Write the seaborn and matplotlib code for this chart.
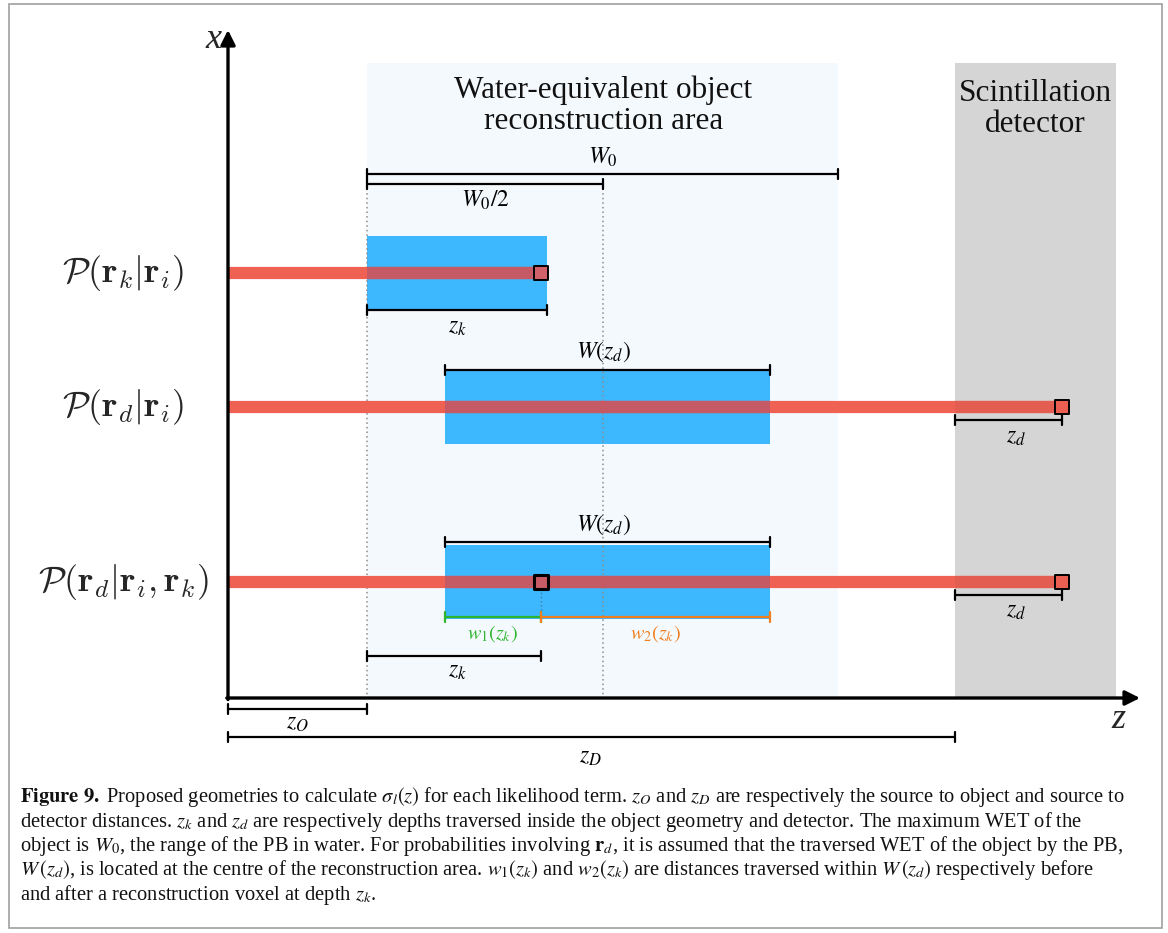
import matplotlib
matplotlib.use("Agg")
import matplotlib.pyplot as plt
from matplotlib.patches import Rectangle
import seaborn as sns

sns.set_theme(style="white")
plt.rcParams['font.family'] = ['Liberation Serif', 'DejaVu Serif']
plt.rcParams['mathtext.fontset'] = 'stix'

# geometry along z (figure pixel units, source at z_src)
z_src = 228
z_obj = [367, 838]       # water-equivalent object area
z_det = [955, 1116]      # scintillation detector
z_half = 603             # W0 / 2
z_voxel = 541            # voxel at depth z_k
z_wd = [445, 770]        # W(z_d) extent
z_end = 1062             # detection point
z_arrow = 1140
x_top = 30
z_axis_y = 698
area_top = 63

# likelihood rows
row_labels = [r'$\mathcal{P}(\mathbf{r}_k|\mathbf{r}_i)$',
              r'$\mathcal{P}(\mathbf{r}_d|\mathbf{r}_i)$',
              r'$\mathcal{P}(\mathbf{r}_d|\mathbf{r}_i,\mathbf{r}_k)$']
row_y = [273, 407, 582]
row_end = [z_voxel, z_end, z_end]
row_block = [[z_obj[0], 547], z_wd, z_wd]
row_voxel = [True, False, True]

# measurement brackets: x0, x1, y, label, label_x, label_y, colour
brackets = [
    (z_obj[0], z_obj[1], 174, r'$W_0$', 603, 157, 'black'),
    (z_obj[0], z_half, 184, r'$W_0/2$', 485, 200, 'black'),
    (z_obj[0], 547, 310, r'$z_k$', 457, 327, 'black'),
    (z_wd[0], z_wd[1], 370, r'$W(z_d)$', 603, 352, 'black'),
    (z_det[0], z_end, 420, r'$z_d$', 1016, 438, 'black'),
    (z_wd[0], z_wd[1], 542, r'$W(z_d)$', 603, 525, 'black'),
    (z_wd[0], z_voxel, 617, r'$w_1(z_k)$', 492, 634, '#2db52d'),
    (z_voxel, z_wd[1], 617, r'$w_2(z_k)$', 655, 634, '#f07f1f'),
    (z_obj[0], z_voxel, 656, r'$z_k$', 457, 672, 'black'),
    (z_det[0], z_end, 595, r'$z_d$', 1016, 612, 'black'),
    (z_src, z_obj[0], 709, r'$z_O$', 297, 724, 'black'),
    (z_src, z_det[0], 737, r'$z_D$', 590, 757, 'black'),
]

caption = [
    r"$\mathbf{Figure\ 9.}$ Proposed geometries to calculate $\sigma_l(z)$ for each likelihood term. $z_O$ and $z_D$ are respectively the source to object and source to",
    r"detector distances. $z_k$ and $z_d$ are respectively depths traversed inside the object geometry and detector. The maximum WET of the",
    r"object is $W_0$, the range of the PB in water. For probabilities involving $\mathbf{r}_d$, it is assumed that the traversed WET of the object by the PB,",
    r"$W\,(z_d)$, is located at the centre of the reconstruction area. $w_1(z_k)$ and $w_2(z_k)$ are distances traversed within $W\,(z_d)$ respectively before",
    r"and after a reconstruction voxel at depth $z_k$.",
]

BLUE = '#3db7fd'
RED = '#ef6152'
RED_ON_BLUE = '#c65a64'
RED_ON_GRAY = '#e35d50'

fig = plt.figure(figsize=(11.68, 9.33), dpi=100)
ax = fig.add_axes([0, 0, 1, 1])

# frame
ax.add_patch(Rectangle((9, 4), 1153, 924, fill=False, edgecolor='#a0a0a0', lw=1.2, zorder=0))

# regions
ax.add_patch(Rectangle((z_obj[0], area_top), z_obj[1] - z_obj[0], z_axis_y - area_top,
                       facecolor='#f4f9fd', edgecolor='none', zorder=0))
ax.add_patch(Rectangle((z_det[0], area_top), z_det[1] - z_det[0], z_axis_y - area_top,
                       facecolor='#d5d5d5', edgecolor='none', zorder=0))
ax.text((z_obj[0] + z_obj[1]) / 2 + 1, 106, 'Water-equivalent object\nreconstruction area',
        ha='center', va='center', fontsize=22.5, linespacing=1.08, color='#111111')
ax.text((z_det[0] + z_det[1]) / 2, 109, 'Scintillation\ndetector',
        ha='center', va='center', fontsize=22.5, linespacing=1.08, color='#111111')

# blocks traversed
for (b0, b1), y in zip(row_block, row_y):
    ax.add_patch(Rectangle((b0, y - 37), b1 - b0, 74, facecolor=BLUE, edgecolor='none', zorder=1))

# dotted guides
ax.vlines([z_obj[0], z_half], 184, z_axis_y, colors='#8c8c8c', lw=1.1,
          linestyles=(0, (1, 2)), zorder=2)
ax.vlines(z_voxel, row_y[2] + 6, 617, colors='#3f7fb0', lw=1.0, linestyles=(0, (1, 2)), zorder=2)

# beams
for y, end, (b0, b1) in zip(row_y, row_end, row_block):
    sns.lineplot(x=[z_src, end], y=[y, y], color=RED, linewidth=8.8,
                 solid_capstyle='butt', ax=ax, zorder=3)
    sns.lineplot(x=[b0, min(b1, end)], y=[y, y], color=RED_ON_BLUE, linewidth=8.8,
                 solid_capstyle='butt', ax=ax, zorder=4)
    if end > z_det[0]:
        sns.lineplot(x=[z_det[0], end], y=[y, y], color=RED_ON_GRAY, linewidth=8.8,
                     solid_capstyle='butt', ax=ax, zorder=4)

# voxel / detection markers
for y, end, vox in zip(row_y, row_end, row_voxel):
    if end == z_voxel:
        sns.scatterplot(x=[end], y=[y], marker='s', s=95, color='#d0606a',
                        edgecolor='black', linewidth=1.4, ax=ax, zorder=6)
    else:
        sns.scatterplot(x=[end], y=[y], marker='s', s=95, color='#ea5f52',
                        edgecolor='black', linewidth=1.4, ax=ax, zorder=6)
        if vox:
            sns.scatterplot(x=[z_voxel], y=[y], marker='s', s=95, color='#c85c66',
                            edgecolor='black', linewidth=2.2, ax=ax, zorder=6)

# row labels
for lab, y in zip(row_labels, row_y):
    ax.text(123, y, lab, ha='center', va='center', fontsize=26, math_fontfamily='cm')

# brackets
for x0, x1, y, lab, lx, ly, col in brackets:
    ax.plot([x0, x1], [y, y], color=col, lw=1.6, zorder=5, solid_capstyle='butt')
    ax.plot([x0, x0], [y - 5, y + 5], color=col, lw=1.6, zorder=5)
    ax.plot([x1, x1], [y - 5, y + 5], color=col, lw=1.6, zorder=5)
    ax.text(lx, ly, lab, ha='center', va='center', fontsize=17 if col == 'black' else 14.5,
            color=col)

# axes arrows
ax.annotate('', xy=(z_src, x_top), xytext=(z_src, z_axis_y + 1.5),
            arrowprops=dict(arrowstyle='-|>', lw=2.4, color='black', mutation_scale=22,
                            shrinkA=0, shrinkB=0), zorder=7)
ax.annotate('', xy=(z_arrow, z_axis_y), xytext=(z_src - 1.2, z_axis_y),
            arrowprops=dict(arrowstyle='-|>', lw=2.4, color='black', mutation_scale=22,
                            shrinkA=0, shrinkB=0), zorder=7)
ax.text(213, 40, 'x', ha='center', va='center', fontsize=26, fontstyle='italic')
ax.text(1118, 720, 'z', ha='center', va='center', fontsize=26, fontstyle='italic')

# caption
for i, line in enumerate(caption):
    ax.text(20, 797 + i * 24.5, line, ha='left', va='center', fontsize=14.8, color='#111111')

ax.set_xlim(0, 1168)
ax.set_ylim(933, 0)
ax.axis('off')

plt.savefig('out.png', dpi=100)
